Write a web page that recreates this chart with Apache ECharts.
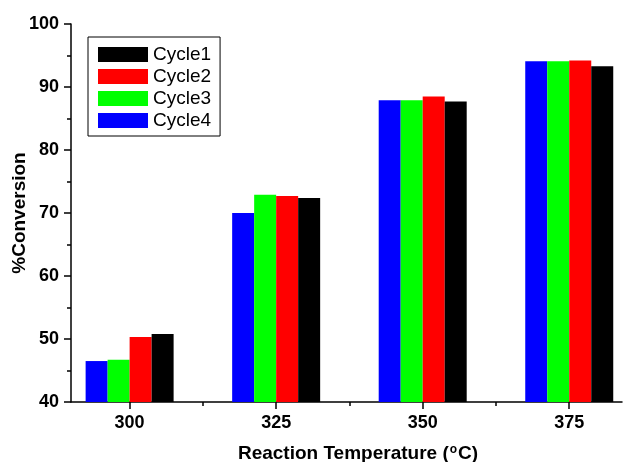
<!DOCTYPE html>
<html>
<head>
<meta charset="utf-8">
<script src="https://cdn.jsdelivr.net/npm/echarts@6/dist/echarts.min.js"></script>
<style>
  html, body { margin: 0; padding: 0; background: #fff; }
  #chart { width: 623px; height: 462px; }
</style>
</head>
<body>
<div id="chart"></div>
<script>
'use strict'
// reaction temperatures (degC)
var temperatures = [300, 325, 350, 375];
var midTicks = [312.5, 337.5, 362.5];
var cycle1 = [50.8, 72.4, 87.7, 93.3];
var cycle2 = [50.3, 72.7, 88.5, 94.2];
var cycle3 = [46.7, 72.9, 87.9, 94.1];
var cycle4 = [46.5, 70.0, 87.9, 94.1];

var font = 'Arial, "Liberation Sans", sans-serif';

function pairs(vals) {
  return temperatures.map(function (t, i) { return [t, vals[i]]; });
}

function barSeries(name, vals, color) {
  return {
    name: name,
    type: 'bar',
    data: pairs(vals),
    barWidth: 22,
    barGap: '0%',
    itemStyle: { color: color },
    animation: false
  };
}

var chart = echarts.init(document.getElementById('chart'));
chart.setOption({
  animation: false,
  grid: { left: 71, right: 1, top: 24, bottom: 60, containLabel: false, outerBoundsMode: 'none' },
  legend: {
    data: ['Cycle1', 'Cycle2', 'Cycle3', 'Cycle4'],
    orient: 'vertical',
    left: 88,
    top: 37,
    icon: 'rect',
    itemWidth: 50,
    itemHeight: 15,
    itemGap: 3,
    padding: [8, 9, 6, 10],
    borderColor: '#000',
    borderWidth: 1,
    textStyle: { fontFamily: font, fontSize: 19, color: '#000', lineHeight: 19 }
  },
  xAxis: [
    {
      type: 'value',
      min: 290,
      max: 384,
      splitLine: { show: false },
      axisLine: { lineStyle: { color: '#000', width: 1.5 } },
      axisTick: { length: 7, lineStyle: { color: '#000', width: 1.5 }, customValues: temperatures },
      axisLabel: { customValues: temperatures, color: '#000', fontFamily: font, fontSize: 18, fontWeight: 'bold', margin: 12 },
      name: '{t|Reaction Temperature (}{s|o}{t|C)}',
      nameLocation: 'middle',
      nameGap: 42,
      nameMoveOverlap: false,
      nameTextStyle: {
        padding: [0, 0, 0, 23],
        rich: {
          t: { color: '#000', fontFamily: font, fontSize: 19, fontWeight: 'bold' },
          s: { color: '#000', fontFamily: font, fontSize: 12, fontWeight: 'bold', verticalAlign: 'top', padding: [0, 1, 6, 1] }
        }
      }
    },
    {
      type: 'value',
      min: 290,
      max: 384,
      position: 'bottom',
      splitLine: { show: false },
      axisLine: { show: false },
      axisTick: { length: 4, lineStyle: { color: '#000', width: 1.5 }, customValues: midTicks },
      axisLabel: { show: false }
    }
  ],
  yAxis: {
    type: 'value',
    min: 40,
    max: 100,
    interval: 10,
    splitLine: { show: false },
    axisLine: { show: true, lineStyle: { color: '#000', width: 1.5 } },
    axisTick: { show: true, length: 7, lineStyle: { color: '#000', width: 1.5 } },
    minorTick: { show: true, splitNumber: 2, length: 4, lineStyle: { color: '#000', width: 1.5 } },
    axisLabel: { color: '#000', fontFamily: font, fontSize: 18, fontWeight: 'bold', margin: 12 },
    name: '%Conversion',
    nameLocation: 'middle',
    nameGap: 42,
    nameMoveOverlap: false,
    nameTextStyle: { color: '#000', fontFamily: font, fontSize: 19, fontWeight: 'bold' }
  },
  series: [
    barSeries('Cycle4', cycle4, '#0000ff'),
    barSeries('Cycle3', cycle3, '#00ff00'),
    barSeries('Cycle2', cycle2, '#ff0000'),
    barSeries('Cycle1', cycle1, '#000000')
  ]
});
</script>
</body>
</html>
